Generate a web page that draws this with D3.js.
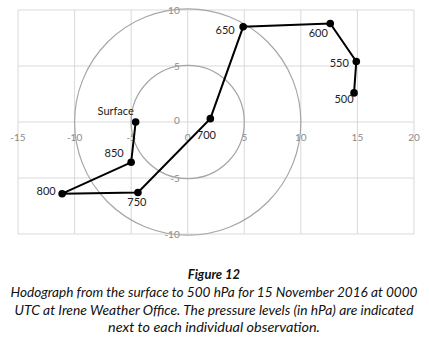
<!DOCTYPE html>
<html>
<head>
<meta charset="UTF-8">
<script src="https://d3js.org/d3.v7.min.js"></script>
<style>
  body { margin: 0; background: #fff; }
  svg text { font-family: "Lato", "Open Sans", sans-serif; }
</style>
</head>
<body>
<svg id="chart" width="429" height="349"></svg>
<script>
// wind components per pressure level
const levels = ["Surface", "850", "800", "750", "700", "650", "600", "550", "500"];
const uVals  = [-4.6, -5.0, -11.1, -4.4, 2.0, 4.9, 12.6, 14.9, 14.7];
const vVals  = [0.0, -3.6, -6.4, -6.3, 0.3, 8.5, 8.8, 5.4, 2.6];
// label offsets in px relative to point
const labDx = [-20, -17, -16, -1, -4, -18, -12, -17, -10];
const labDy = [-11, -9, -3, 9, 16, 3, 10, 1, 6];
const xTicks = [-15, -10, -5, 0, 5, 10, 15, 20];
const yTicks = [-10, -5, 0, 5, 10];
const rings = [5, 10];
const caption = [
  "Hodograph from the surface to 500 hPa for 15 November 2016 at 0000",
  "UTC at Irene Weather Office. The pressure levels (in hPa) are indicated",
  "next to each individual observation."
];
const captionWidth = [407, 399, 212];

const svg = d3.select("#chart");
const x = d3.scaleLinear().domain([-15, 20]).range([18, 414]);
const y = d3.scaleLinear().domain([-10, 10]).range([234, 10]);

// grid
const grid = svg.append("g");
grid.selectAll(".vg").data(xTicks).join("line")
  .attr("x1", d => x(d)).attr("x2", d => x(d))
  .attr("y1", y(10)).attr("y2", y(-10))
  .attr("stroke", "#d9d9d9").attr("stroke-width", 1);
grid.selectAll(".hg").data(yTicks).join("line")
  .attr("x1", x(-15)).attr("x2", x(20))
  .attr("y1", d => y(d)).attr("y2", d => y(d))
  .attr("stroke", "#d9d9d9").attr("stroke-width", 1);

// tick labels
svg.append("g").selectAll("text").data(xTicks).join("text")
  .attr("x", d => x(d)).attr("y", y(0) + 19)
  .attr("text-anchor", "middle")
  .attr("font-size", 10).attr("fill", "#8a8a8a")
  .text(d => d);
svg.append("g").selectAll("text").data(yTicks.filter(d => d !== 0)).join("text")
  .attr("x", x(0) - 8).attr("y", d => y(d) + 4)
  .attr("text-anchor", "end")
  .attr("font-size", 10).attr("fill", "#8a8a8a")
  .text(d => d);
svg.append("text")
  .attr("x", x(0) - 8).attr("y", y(0) + 2)
  .attr("text-anchor", "end")
  .attr("font-size", 10).attr("fill", "#8a8a8a")
  .text("0");

// rings
svg.append("g").selectAll("circle").data(rings).join("circle")
  .attr("cx", x(0)).attr("cy", y(0))
  .attr("r", d => x(d) - x(0))
  .attr("fill", "none").attr("stroke", "#a6a6a6").attr("stroke-width", 1.2);

// hodograph
const pts = levels.map((l, i) => ({ l, u: uVals[i], v: vVals[i], dx: labDx[i], dy: labDy[i] }));
svg.append("path")
  .datum(pts)
  .attr("d", d3.line().x(d => x(d.u)).y(d => y(d.v)))
  .attr("fill", "none").attr("stroke", "#000").attr("stroke-width", 2);
svg.append("g").selectAll("circle").data(pts).join("circle")
  .attr("cx", d => x(d.u)).attr("cy", d => y(d.v))
  .attr("r", 3.8).attr("fill", "#000");
svg.append("g").selectAll("text").data(pts).join("text")
  .attr("x", d => x(d.u) + d.dx).attr("y", d => y(d.v) + d.dy + 4)
  .attr("text-anchor", "middle")
  .attr("font-size", 11).attr("fill", "#222")
  .text(d => d.l);

// caption
svg.append("text")
  .attr("x", 214).attr("y", 279)
  .attr("text-anchor", "middle")
  .attr("font-size", 13).attr("font-weight", "bold").attr("font-style", "italic")
  .attr("fill", "#111")
  .text("Figure 12");
svg.append("g").selectAll("text").data(caption).join("text")
  .attr("x", 214).attr("y", (d, i) => 297 + i * 17.5)
  .attr("text-anchor", "middle")
  .attr("font-size", 12.5).attr("font-style", "italic")
  .attr("fill", "#111")
  .attr("textLength", (d, i) => captionWidth[i])
  .attr("lengthAdjust", "spacingAndGlyphs")
  .text(d => d);
</script>
</body>
</html>
